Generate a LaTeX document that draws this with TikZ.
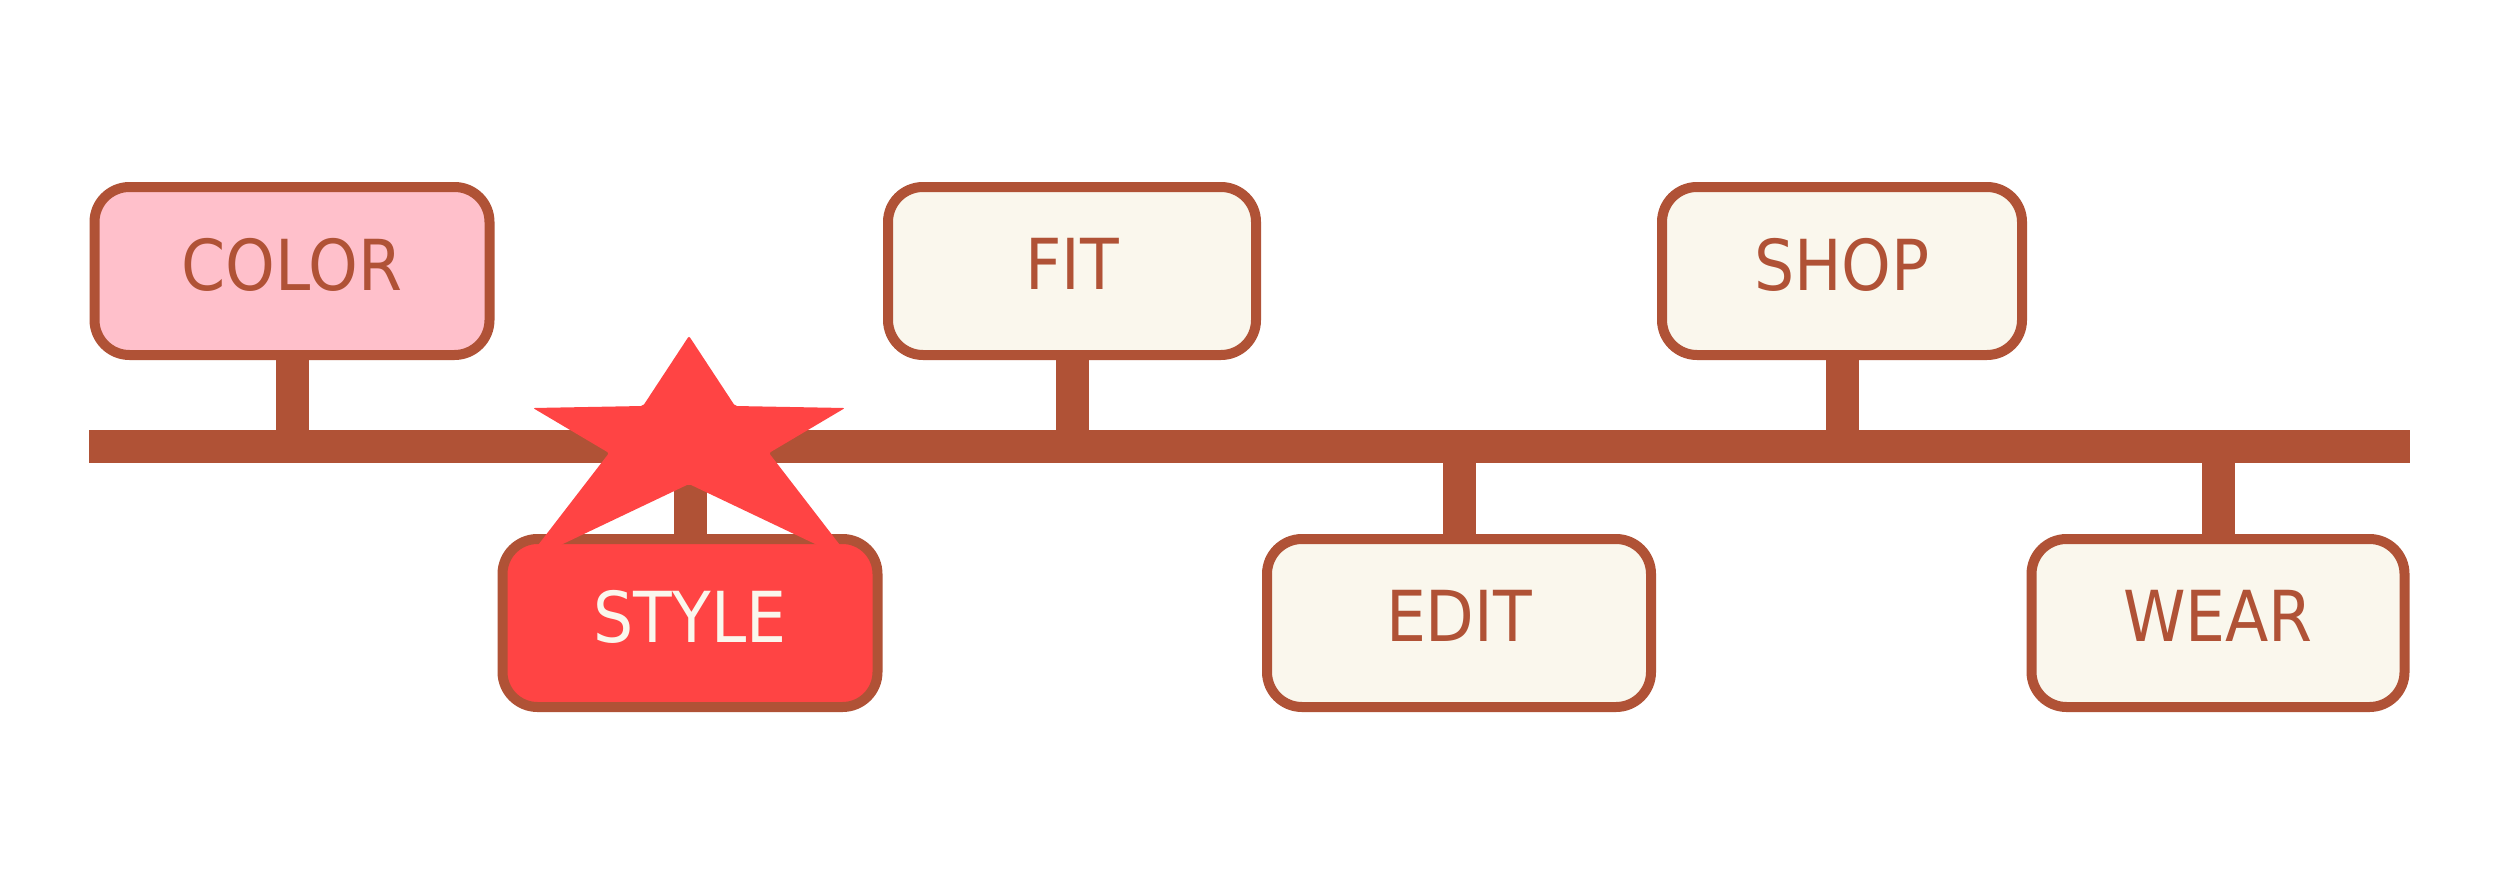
\documentclass[tikz,border=0pt]{standalone}
\usepackage{fontspec}
\newfontfamily\eventfont{DejaVu Sans Condensed}
\definecolor{rust}{RGB}{176,82,54}
\definecolor{cream}{RGB}{250,247,237}
\definecolor{blush}{RGB}{255,192,203}
\definecolor{hotred}{RGB}{255,68,68}

\begin{document}
\begin{tikzpicture}[
    event/.style={draw=rust, line width=0.1cm, rounded corners=0.35cm, fill=cream,
        minimum height=1.68cm, text=rust, text depth=0.14cm,
        font=\eventfont\fontsize{20}{24}\selectfont},
    post/.style={draw=rust, line width=0.33cm},
    track/.style={fill=rust, inner sep=0pt, minimum height=0.33cm}
]
\fill[white] (0,0) rectangle (25,8.94);
\node[track, minimum width=23.21cm] (bar) at (12.495,4.475) {};

\node[event, fill=blush, minimum width=3.95cm] (color) at (2.92,6.23) {COLOR};
\node[event, minimum width=3.68cm] (fit) at (10.72,6.23) {FIT};
\node[event, minimum width=3.60cm] (shop) at (18.42,6.23) {SHOP};
\node[event, fill=hotred, text=cream, minimum width=3.75cm] (style) at (6.90,2.71) {STYLE};
\node[event, minimum width=3.84cm] (edit) at (14.59,2.71) {EDIT};
\node[event, minimum width=3.73cm] (wear) at (22.18,2.71) {WEAR};

\foreach \n in {color, fit, shop}
    \draw[post] (\n.south) -- (\n.south |- bar.center);
\foreach \n in {style, edit, wear}
    \draw[post] (bar.center -| \n.north) -- (\n.north);

\fill[hotred, rounded corners=0.02cm] (6.89,5.58) -- (7.35,4.88) -- (8.45,4.86)
    -- (7.69,4.41) -- (8.53,3.32) -- (6.89,4.10) -- (5.25,3.32) -- (6.09,4.41)
    -- (5.33,4.86) -- (6.43,4.88) -- cycle;
\end{tikzpicture}
\end{document}
